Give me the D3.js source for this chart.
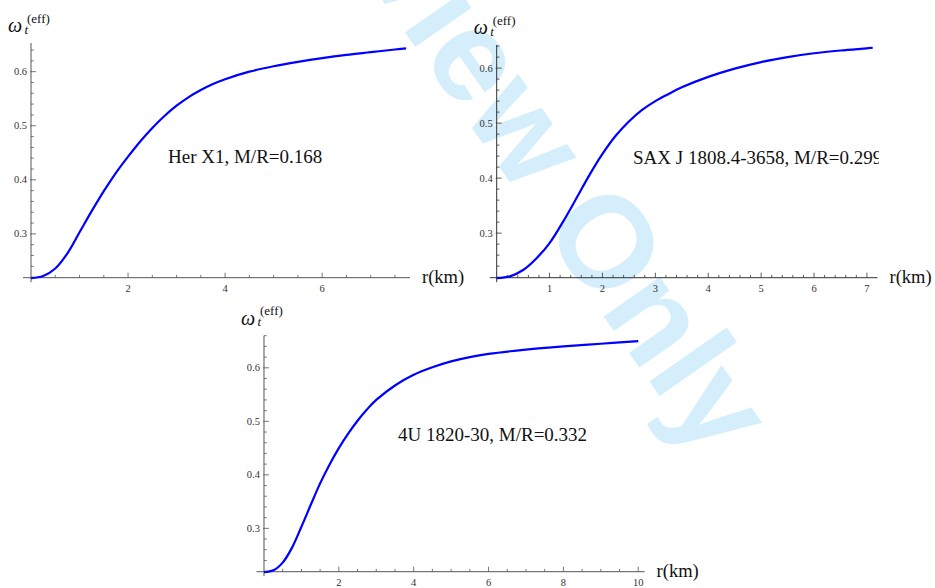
<!DOCTYPE html>
<html>
<head>
<meta charset="utf-8">
<script src="https://cdn.jsdelivr.net/npm/d3@7"></script>
<style>
  body { margin: 0; background: #fff; }
  svg { display: block; }
</style>
</head>
<body>
<div id="chart"></div>
<script>
const W = 935, H = 588;

// r (km) samples and omega_t^(eff)
const herR = [0, 0.25, 0.5, 0.75, 1, 1.25, 1.5, 1.75, 2, 2.25, 2.5, 2.75, 3, 3.25, 3.5, 3.75, 4, 4.5, 5, 5.5, 6, 6.5, 7, 7.5, 7.73];
const herW = [0.218, 0.222, 0.236, 0.264, 0.303, 0.342, 0.379, 0.413, 0.443, 0.471, 0.496, 0.518, 0.537, 0.553, 0.566, 0.577, 0.586, 0.600, 0.610, 0.618, 0.625, 0.631, 0.636, 0.641, 0.643];

const saxR = [0, 0.25, 0.5, 0.75, 1, 1.25, 1.5, 1.75, 2, 2.25, 2.5, 2.75, 3, 3.25, 3.5, 4, 4.5, 5, 5.5, 6, 6.5, 7, 7.11];
const saxW = [0.218, 0.2215, 0.233, 0.254, 0.282, 0.320, 0.362, 0.405, 0.444, 0.477, 0.503, 0.524, 0.540, 0.553, 0.565, 0.584, 0.599, 0.611, 0.620, 0.627, 0.632, 0.636, 0.637];

const u4R = [0, 0.25, 0.5, 0.75, 1, 1.25, 1.5, 1.75, 2, 2.25, 2.5, 2.75, 3, 3.5, 4, 4.5, 5, 5.5, 6, 7, 8, 9, 10];
const u4W = [0.218, 0.2215, 0.236, 0.264, 0.303, 0.344, 0.384, 0.419, 0.450, 0.477, 0.501, 0.522, 0.540, 0.567, 0.587, 0.601, 0.612, 0.620, 0.626, 0.634, 0.640, 0.645, 0.650];

const herXTicks = [2, 4, 6];
const saxXTicks = [1, 2, 3, 4, 5, 6, 7];
const u4XTicks = [2, 4, 6, 8, 10];
const yTicks = [0.3, 0.4, 0.5, 0.6];

const labels = ['Her X1, M/R=0.168', 'SAX J 1808.4-3658, M/R=0.299', '4U 1820-30, M/R=0.332'];

const serif = "'Liberation Serif', 'Times New Roman', Times, serif";

// layout of the three panels (pixel ranges)
const panels = [
  { r: herR, w: herW, xTicks: herXTicks, minor: 0.5, label: labels[0],
    xDom: [-0.165, 7.81], xRange: [23, 410], yDom: [0.219, 0.653], yRange: [277.7, 43],
    labelAt: [168, 163], axis: '#555' },
  { r: saxR, w: saxW, xTicks: saxXTicks, minor: 0.2, label: labels[1],
    xDom: [-0.13, 7.2], xRange: [489.8, 877.5], yDom: [0.219, 0.642], yRange: [277.7, 45],
    labelAt: [633, 164], axis: '#333', clip: 879 },
  { r: u4R, w: u4W, xTicks: u4XTicks, minor: 0.5, label: labels[2],
    xDom: [-0.2, 10.17], xRange: [256.5, 644.6], yDom: [0.219, 0.66], yRange: [571.7, 335.7],
    labelAt: [398, 441], axis: '#555' }
];

const svg = d3.select('#chart').append('svg')
  .attr('width', W)
  .attr('height', H);

// watermark sits behind everything
svg.append('text')
  .attr('transform', 'translate(238,-206) rotate(55)')
  .style('font-family', "'Liberation Sans', Arial, sans-serif")
  .attr('font-weight', 'bold')
  .attr('font-size', 130)
  .attr('fill', '#d4eefb')
  .text('Preview Only');

const defs = svg.append('defs');

panels.forEach((p, i) => {
  const x = d3.scaleLinear().domain(p.xDom).range(p.xRange);
  const y = d3.scaleLinear().domain(p.yDom).range(p.yRange);
  const g = svg.append('g').style('font-family', serif);
  const x0 = x(0);
  const yb = p.yRange[0], yt = p.yRange[1];

  // axes lines
  g.append('line')
    .attr('x1', p.xRange[0]).attr('x2', p.xRange[1])
    .attr('y1', yb).attr('y2', yb)
    .attr('stroke', p.axis).attr('stroke-width', 1);
  g.append('line')
    .attr('x1', x0).attr('x2', x0)
    .attr('y1', yb + 4.5).attr('y2', yt)
    .attr('stroke', p.axis).attr('stroke-width', 1);

  // x ticks
  const xMax = p.xDom[1];
  const minorX = d3.range(p.minor, xMax, p.minor).filter(v => !p.xTicks.some(t => Math.abs(t - v) < 1e-6));
  g.selectAll('.xminor').data(minorX).join('line')
    .attr('x1', d => x(d)).attr('x2', d => x(d))
    .attr('y1', yb).attr('y2', yb - 2.8)
    .attr('stroke', p.axis).attr('stroke-width', 0.8);
  g.selectAll('.xmajor').data(p.xTicks).join('line')
    .attr('x1', d => x(d)).attr('x2', d => x(d))
    .attr('y1', yb).attr('y2', yb - 5)
    .attr('stroke', p.axis).attr('stroke-width', 0.8);
  g.selectAll('.xlab').data(p.xTicks).join('text')
    .attr('x', d => x(d)).attr('y', yb + 14)
    .attr('text-anchor', 'middle')
    .attr('font-size', 10.5)
    .attr('fill', '#333')
    .text(d => d);

  // y ticks
  const minorY = d3.range(0.22, p.yDom[1], 0.02).filter(v => !yTicks.some(t => Math.abs(t - v) < 1e-6));
  g.selectAll('.yminor').data(minorY).join('line')
    .attr('x1', x0).attr('x2', x0 + 2.8)
    .attr('y1', d => y(d)).attr('y2', d => y(d))
    .attr('stroke', p.axis).attr('stroke-width', 0.8);
  g.selectAll('.ymajor').data(yTicks).join('line')
    .attr('x1', x0 - 1).attr('x2', x0 + 5)
    .attr('y1', d => y(d)).attr('y2', d => y(d))
    .attr('stroke', p.axis).attr('stroke-width', 0.8);
  g.selectAll('.ylab').data(yTicks).join('text')
    .attr('x', x0 - 4).attr('y', d => y(d) + 3.6)
    .attr('text-anchor', 'end')
    .attr('font-size', 10.5)
    .attr('fill', '#333')
    .text(d => d.toFixed(1));

  // axis titles
  g.append('text')
    .attr('x', p.xRange[1] + 12).attr('y', yb + 5)
    .attr('font-size', 18.5)
    .attr('fill', '#111')
    .text('r(km)');

  const yl = g.append('text').attr('fill', '#111');
  yl.append('tspan')
    .attr('x', x0 - 23).attr('y', yt - 11)
    .attr('font-style', 'italic').attr('font-size', 20)
    .text('ω');
  yl.append('tspan')
    .attr('x', x0 - 6.5).attr('y', yt - 9.5)
    .attr('font-style', 'italic').attr('font-size', 13)
    .text('t');
  yl.append('tspan')
    .attr('x', x0 - 4).attr('y', yt - 20.5)
    .attr('font-size', 13)
    .text('(eff)');

  // curve
  const pts = p.r.map((r, k) => [r, p.w[k]]);
  g.append('path')
    .datum(pts)
    .attr('fill', 'none')
    .attr('stroke', '#0000ff')
    .attr('stroke-width', 2.2)
    .attr('d', d3.line().x(d => x(d[0])).y(d => y(d[1])).curve(d3.curveCatmullRom.alpha(0.5)));

  // annotation
  const lab = g.append('text')
    .attr('x', p.labelAt[0]).attr('y', p.labelAt[1])
    .attr('font-size', 19)
    .attr('fill', '#111')
    .text(p.label);
  if (p.clip) {
    defs.append('clipPath').attr('id', 'clip' + i)
      .append('rect').attr('x', 0).attr('y', 0).attr('width', p.clip).attr('height', H);
    lab.attr('clip-path', `url(#clip${i})`);
  }
});
</script>
</body>
</html>
